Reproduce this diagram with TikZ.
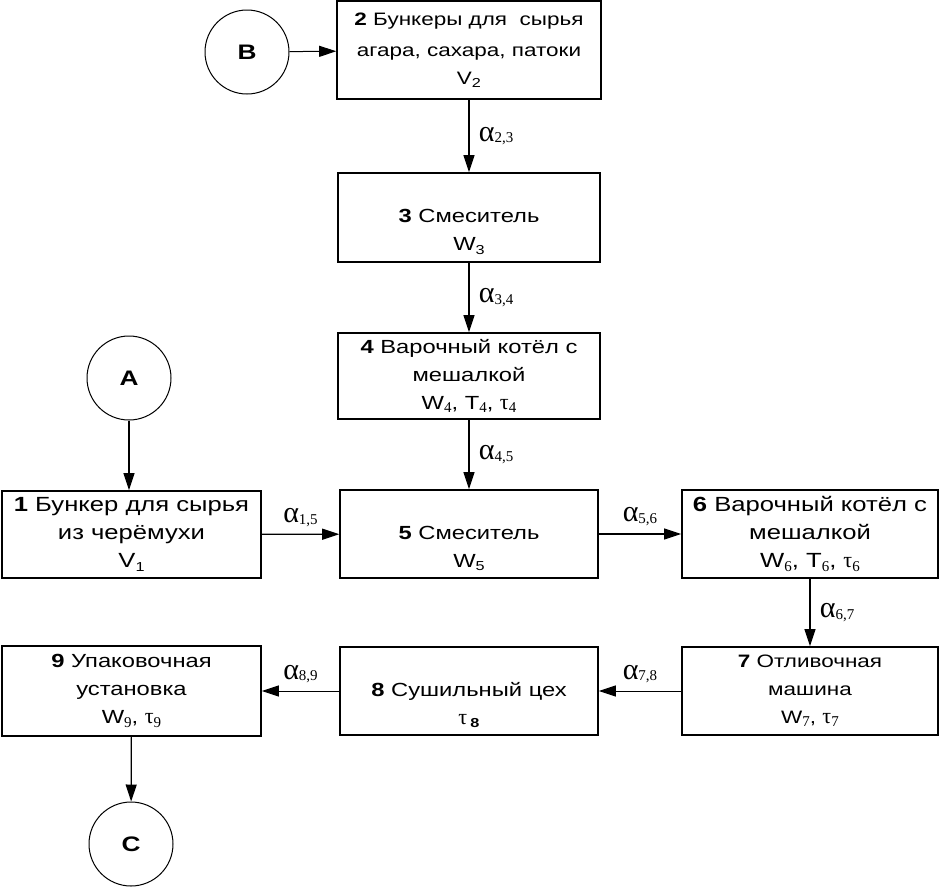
\documentclass[tikz,border=0pt]{standalone}
\usepackage{fontspec}
\setmainfont{Liberation Sans}[FakeStretch=1.25]
\newfontfamily\serf{Liberation Serif}
\usetikzlibrary{arrows.meta}
\newcommand{\ix}[1]{\raisebox{-0.35ex}{\serf\fontsize{15}{15}\selectfont #1}}
\newcommand{\sx}[1]{\raisebox{-0.35ex}{\fontsize{13}{13}\selectfont #1}}
\newcommand{\al}[1]{{\serf\fontsize{30}{30}\selectfont α}\ix{#1}}
\newcommand{\ta}{{\serf\fontsize{22}{22}\selectfont τ}}

\begin{document}
\begin{tikzpicture}[x=1pt,y=-1pt,>={Triangle[length=17pt,width=11pt]},
box/.style={draw,line width=1.6pt,align=center,inner sep=0pt,font=\fontsize{#1}{28}\selectfont},
box/.default=19,
circ/.style={draw,circle,line width=1pt,minimum size=84pt,font=\fontsize{21}{21}\selectfont\bfseries},
flow/.style={->,line width=1.2pt}]
\useasboundingbox (0,0) rectangle (943,887);
% circles
\node[circ] (B) at (247,52) {B};
\node[circ] (A) at (129,378) {A};
\node[circ] (C) at (131,844) {C};
% boxes
\node[box=18,minimum width=264pt,minimum height=98pt] (b2) at (469,50)
  {\textbf{2} Бункеры для \ сырья\\[3pt]агара, сахара, патоки\\V\sx{2}};
\node[box,minimum width=262pt,minimum height=89pt] (b3) at (469,217.5)
  {\mbox{}\\[14pt]\textbf{3} Смеситель\\W\sx{3}};
\node[box,minimum width=262pt,minimum height=86pt] (b4) at (469,376)
  {\textbf{4} Варочный котёл с\\мешалкой\\W\ix{4}, T\ix{4}, \ta\ix{4}};
\node[box=20.5,minimum width=259pt,minimum height=87pt] (b1) at (131.5,534.5)
  {\textbf{1} Бункер для сырья\\из черёмухи\\V\sx{1}};
\node[box,minimum width=258pt,minimum height=88pt] (b5) at (469,534)
  {\mbox{}\\[14pt]\textbf{5} Смеситель\\W\sx{5}};
\node[box=20.5,minimum width=256pt,minimum height=88pt] (b6) at (810,534)
  {\textbf{6} Варочный котёл с\\мешалкой\\W\ix{6}, T\ix{6}, \ta\ix{6}};
\node[box=18,minimum width=256pt,minimum height=88pt] (b7) at (810,691)
  {\textbf{7} Отливочная\\машина\\W\ix{7}, \ta\ix{7}};
\node[box,minimum width=258pt,minimum height=88pt] (b8) at (469,691)
  {\mbox{}\\[14pt]\textbf{8} Сушильный цех\\\ta\,\raisebox{-0.35ex}{\fontsize{13}{13}\selectfont\bfseries 8}};
\node[box,minimum width=259pt,minimum height=90pt] (b9) at (131.5,691)
  {\textbf{9} Упаковочная\\установка\\W\ix{9}, \ta\ix{9}};
% connectors
\draw[->,line width=1pt] (B) -- (b2);
\draw[flow] (b2) -- node[right=6pt]{\al{2,3}} (b3);
\draw[flow] (b3) -- node[right=6pt]{\al{3,4}} (b4);
\draw[flow] (b4) -- node[right=6pt]{\al{4,5}} (b5);
\draw[flow] (A) -- (A |- b1.north);
\draw[flow] (b1) -- node[above=4pt]{\al{1,5}} (b5);
\draw[flow] (b5) -- node[above=4pt]{\al{5,6}} (b6);
\draw[flow] (b6) -- node[right=6pt]{\al{6,7}} (b7);
\draw[->,line width=1pt] (b7) -- node[above=4pt]{\al{7,8}} (b8);
\draw[->,line width=1pt] (b8) -- node[above=4pt]{\al{8,9}} (b9);
\draw[flow] (b9) -- (C);
\end{tikzpicture}
\end{document}
